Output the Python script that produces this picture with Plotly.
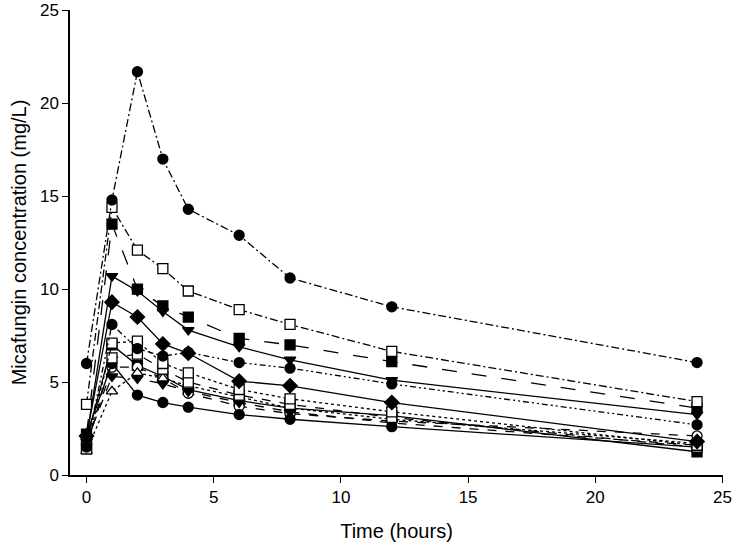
import plotly.graph_objects as go

times = [0, 1, 2, 3, 4, 6, 8, 12, 24]

s1 = [6.0, 14.8, 21.7, 17.0, 14.3, 12.9, 10.6, 9.05, 6.05]
s2 = [3.8, 14.4, 12.1, 11.1, 9.9, 8.9, 8.1, 6.65, 3.95]
s3 = [2.2, 13.5, 10.0, 9.1, 8.5, 7.35, 7.0, 6.1, 3.6]
s4 = [2.0, 10.7, 9.9, 8.8, 7.8, 6.9, 6.2, 5.1, 3.25]
s5 = [1.5, 8.1, 6.8, 6.4, 6.6, 6.05, 5.75, 4.9, 2.7]
s6 = [2.1, 9.3, 8.5, 7.05, 6.55, 5.05, 4.8, 3.9, 1.8]
s7 = [1.4, 7.1, 7.2, 6.0, 5.5, 4.6, 4.1, 3.4, 1.6]
s8 = [1.5, 6.3, 6.5, 5.7, 5.0, 4.3, 3.8, 3.1, 1.5]
s9 = [2.2, 6.0, 4.3, 3.9, 3.65, 3.25, 3.0, 2.6, 1.5]
s10 = [1.3, 4.5, 5.5, 5.2, 4.8, 4.2, 3.6, 3.0, 1.7]
s11 = [1.8, 5.3, 5.2, 4.9, 4.5, 3.9, 3.4, 2.8, 1.6]
s12 = [1.6, 5.8, 5.8, 5.2, 4.4, 3.7, 3.3, 2.9, 2.1]
s13 = [1.9, 7.0, 5.9, 5.3, 4.6, 4.0, 3.6, 3.2, 1.25]

x_ticks = [0, 5, 10, 15, 20, 25]
y_ticks = [0, 5, 10, 15, 20, 25]

series = [s13, s12, s11, s10, s9, s8, s7, s6, s5, s4, s3, s2, s1]
symbols = ["square", "circle", "triangle-down", "triangle-up", "circle", "square", "square",
           "diamond", "circle", "triangle-down", "square", "square", "circle"]
filled = [True, False, True, False, True, False, False, True, True, True, True, False, True]
dashes = ["solid", "dash", "dash", "dot", "solid", "dash", "dot", "solid",
          "6px,3px,2px,3px,2px,3px", "solid", "longdash", "8px,3px,2px,3px", "8px,3px,2px,3px"]

fig = go.Figure()
for ys, sym, fl, dsh in zip(series, symbols, filled, dashes):
    fig.add_trace(go.Scatter(
        x=times, y=ys, mode="lines+markers",
        line=dict(color="black", width=1.3, dash=dsh),
        marker=dict(symbol=sym, size=10 if sym != "diamond" else 11,
                    color="black" if fl else "white",
                    line=dict(color="black", width=1.3)),
        showlegend=False, cliponaxis=False,
    ))

fig.update_layout(
    width=733, height=552,
    margin=dict(l=70, r=10, t=10, b=77),
    paper_bgcolor="white", plot_bgcolor="white",
    font=dict(family="Liberation Sans, Arial, sans-serif", color="black", size=17),
)
fig.update_xaxes(
    range=[-0.65, 25.02], tickvals=x_ticks, automargin=False, ticklabeloverflow="allow",
    showline=True, linecolor="black", linewidth=1.5,
    ticks="outside", ticklen=6, tickwidth=1.3, tickcolor="black",
    showgrid=False, zeroline=False,
    title=dict(text="Time (hours)", font=dict(size=20), standoff=18),
)
fig.update_yaxes(
    range=[0, 25.02], tickvals=y_ticks, automargin=False, ticklabeloverflow="allow",
    showline=True, linecolor="black", linewidth=1.5,
    ticks="outside", ticklen=6, tickwidth=1.3, tickcolor="black",
    showgrid=False, zeroline=False,
    title=dict(text="Micafungin concentration (mg/L)", font=dict(size=20), standoff=8),
)
fig.write_html("out.html", config={"displayModeBar": False},
               post_script="document.body.style.margin='0px';document.body.style.overflow='hidden';")
